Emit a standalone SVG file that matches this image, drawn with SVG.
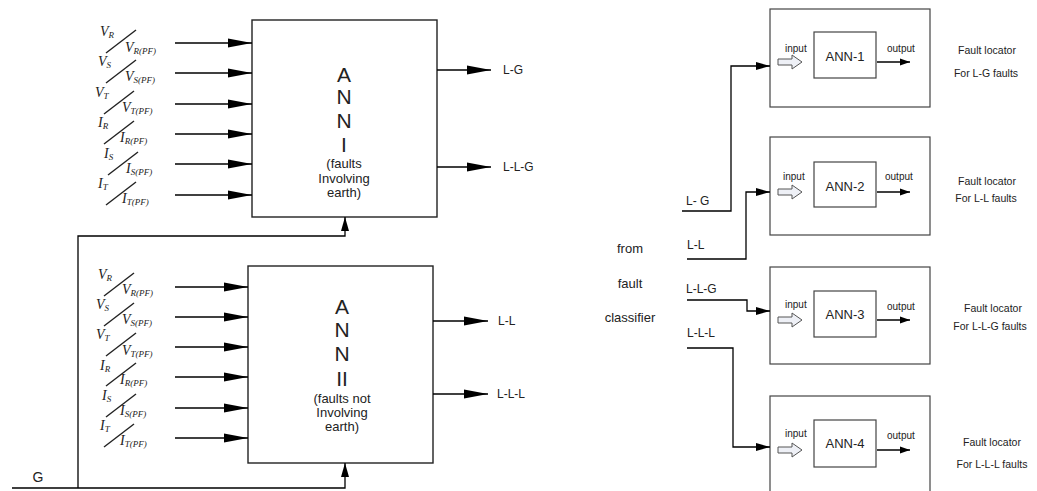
<svg xmlns="http://www.w3.org/2000/svg" width="1037" height="491" viewBox="0 0 1037 491">
<defs>
<style>
.ln{stroke:#000;stroke-width:1.3;fill:none}
.box{stroke:#222;stroke-width:1.4;fill:#fff}
.sbox{stroke:#444;stroke-width:1.2;fill:#fff}
.s{font-family:"Liberation Sans",Arial,sans-serif;fill:#222}
.big{font-size:21px;text-anchor:middle}
.mid{font-size:13px;text-anchor:middle}
.lbl{font-size:12px}
.sm{font-size:10px}
.fl{font-size:10.5px;text-anchor:middle}
.m{font-family:"Liberation Serif","Times New Roman",serif;font-style:italic;fill:#222;font-size:14px}
.sub{font-size:9px}
.sl{stroke:#222;stroke-width:1.4}
.hol{fill:#eef0f6;stroke:#555;stroke-width:1}
</style>
<marker id="aL" markerUnits="userSpaceOnUse" markerWidth="26" markerHeight="10" refX="24" refY="5" orient="auto"><path d="M0,0.5 L24,5 L0,9.5 z" fill="#000"/></marker>
<marker id="aM" markerUnits="userSpaceOnUse" markerWidth="16" markerHeight="10" refX="14" refY="5" orient="auto"><path d="M0,1 L14,5 L0,9 z" fill="#000"/></marker>
<marker id="aS" markerUnits="userSpaceOnUse" markerWidth="11" markerHeight="8" refX="10" refY="4" orient="auto"><path d="M0,0.5 L10,4 L0,7.5 z" fill="#000"/></marker>
<g id="frac">
<line class="sl" x1="6" y1="11" x2="36" y2="-12"/>
</g>
</defs>

<!-- ANN I -->
<g id="ann1">
<rect class="box" x="252" y="20" width="185" height="197"/>
<text class="s big" x="344" y="82">A</text>
<text class="s big" x="344" y="104">N</text>
<text class="s big" x="344" y="128">N</text>
<text class="s big" x="344" y="152">I</text>
<text class="s mid" x="344" y="168">(faults</text>
<text class="s mid" x="344" y="183">Involving</text>
<text class="s mid" x="344" y="197">earth)</text>
</g>

<!-- ANN II -->
<g id="ann2">
<rect class="box" x="248" y="266" width="185" height="197"/>
<text class="s big" x="342" y="314">A</text>
<text class="s big" x="342" y="337">N</text>
<text class="s big" x="342" y="361">N</text>
<text class="s big" x="342" y="386">II</text>
<text class="s mid" x="342" y="403">(faults not</text>
<text class="s mid" x="342" y="417">Involving</text>
<text class="s mid" x="342" y="431">earth)</text>
</g>

<!-- input fraction labels ANN I -->
<g id="inputs1">
<use href="#frac" x="100" y="42"/>
<text class="m" x="100" y="36">V<tspan class="sub" dy="2">R</tspan></text>
<text class="m" x="125" y="52">V<tspan class="sub" dy="2">R(PF)</tspan></text>
<use href="#frac" x="100" y="72"/>
<text class="m" x="98" y="66">V<tspan class="sub" dy="2">S</tspan></text>
<text class="m" x="125" y="81">V<tspan class="sub" dy="2">S(PF)</tspan></text>
<use href="#frac" x="98" y="103"/>
<text class="m" x="95" y="97">V<tspan class="sub" dy="2">T</tspan></text>
<text class="m" x="122" y="112">V<tspan class="sub" dy="2">T(PF)</tspan></text>
<use href="#frac" x="98" y="133"/>
<text class="m" x="98" y="127">I<tspan class="sub" dy="2">R</tspan></text>
<text class="m" x="120" y="142">I<tspan class="sub" dy="2">R(PF)</tspan></text>
<use href="#frac" x="102" y="164"/>
<text class="m" x="104" y="158">I<tspan class="sub" dy="2">S</tspan></text>
<text class="m" x="126" y="173">I<tspan class="sub" dy="2">S(PF)</tspan></text>
<use href="#frac" x="100" y="194"/>
<text class="m" x="98" y="188">I<tspan class="sub" dy="2">T</tspan></text>
<text class="m" x="122" y="203">I<tspan class="sub" dy="2">T(PF)</tspan></text>
</g>

<!-- input fraction labels ANN II -->
<g id="inputs2">
<use href="#frac" x="98" y="285"/>
<text class="m" x="98" y="279">V<tspan class="sub" dy="2">R</tspan></text>
<text class="m" x="122" y="294">V<tspan class="sub" dy="2">R(PF)</tspan></text>
<use href="#frac" x="98" y="315"/>
<text class="m" x="96" y="309">V<tspan class="sub" dy="2">S</tspan></text>
<text class="m" x="122" y="324">V<tspan class="sub" dy="2">S(PF)</tspan></text>
<use href="#frac" x="100" y="345"/>
<text class="m" x="96" y="339">V<tspan class="sub" dy="2">T</tspan></text>
<text class="m" x="122" y="355">V<tspan class="sub" dy="2">T(PF)</tspan></text>
<use href="#frac" x="100" y="375"/>
<text class="m" x="100" y="370">I<tspan class="sub" dy="2">R</tspan></text>
<text class="m" x="120" y="384">I<tspan class="sub" dy="2">R(PF)</tspan></text>
<use href="#frac" x="100" y="406"/>
<text class="m" x="102" y="400">I<tspan class="sub" dy="2">S</tspan></text>
<text class="m" x="120" y="415">I<tspan class="sub" dy="2">S(PF)</tspan></text>
<use href="#frac" x="98" y="436"/>
<text class="m" x="100" y="430">I<tspan class="sub" dy="2">T</tspan></text>
<text class="m" x="120" y="445">I<tspan class="sub" dy="2">T(PF)</tspan></text>
</g>

<!-- output labels left -->
<g id="outlabels">
<text class="s lbl" x="503" y="74">L-G</text>
<text class="s lbl" x="503" y="171">L-L-G</text>
<text class="s lbl" x="498" y="325">L-L</text>
<text class="s lbl" x="497" y="398">L-L-L</text>
<text class="s" x="38" y="482" font-size="14" text-anchor="middle">G</text>
</g>

<!-- classifier labels -->
<g id="classifier">
<text class="s mid" x="630" y="253">from</text>
<text class="s mid" x="630" y="288">fault</text>
<text class="s mid" x="630" y="322">classifier</text>
<text class="s lbl" x="686" y="205">L- G</text>
<text class="s lbl" x="687" y="249">L-L</text>
<text class="s lbl" x="686" y="293">L-L-G</text>
<text class="s lbl" x="687" y="337">L-L-L</text>
</g>

<!-- locator boxes -->
<g id="loc1">
<rect class="sbox" x="770" y="9" width="160" height="98"/>
<rect class="sbox" x="814" y="32" width="62" height="46"/>
<text class="s mid" x="845" y="61">ANN-1</text>
<text class="s sm" x="785" y="52">input</text>
<path class="hol" d="M778,59 L792,59 L792,55 L802,62 L792,69 L792,65 L778,65 Z"/>
<text class="s sm" x="887" y="52">output</text>
<line class="ln" x1="877" y1="62" x2="910" y2="62" marker-end="url(#aS)" stroke-width="1"/>
<text class="s fl" x="987" y="54">Fault locator</text>
<text class="s fl" x="986" y="77">For L-G faults</text>
</g>
<g id="loc2">
<rect class="sbox" x="770" y="137" width="160" height="98"/>
<rect class="sbox" x="814" y="162" width="62" height="45"/>
<text class="s mid" x="845" y="191">ANN-2</text>
<text class="s sm" x="783" y="180">input</text>
<path class="hol" d="M778,189 L792,189 L792,185 L802,192 L792,199 L792,195 L778,195 Z"/>
<text class="s sm" x="885" y="180">output</text>
<line class="ln" x1="877" y1="192" x2="910" y2="192" marker-end="url(#aS)" stroke-width="1"/>
<text class="s fl" x="987" y="185">Fault locator</text>
<text class="s fl" x="986" y="202">For L-L faults</text>
</g>
<g id="loc3">
<rect class="sbox" x="770" y="267" width="160" height="97"/>
<rect class="sbox" x="814" y="291" width="62" height="46"/>
<text class="s mid" x="845" y="319">ANN-3</text>
<text class="s sm" x="785" y="308">input</text>
<path class="hol" d="M778,317 L792,317 L792,313 L802,320 L792,327 L792,323 L778,323 Z"/>
<text class="s sm" x="887" y="310">output</text>
<line class="ln" x1="877" y1="320" x2="910" y2="320" marker-end="url(#aS)" stroke-width="1"/>
<text class="s fl" x="993" y="312">Fault locator</text>
<text class="s fl" x="990" y="330">For L-L-G faults</text>
</g>
<g id="loc4">
<rect class="sbox" x="770" y="396" width="160" height="110"/>
<rect class="sbox" x="814" y="420" width="62" height="47"/>
<text class="s mid" x="845" y="448">ANN-4</text>
<text class="s sm" x="785" y="437">input</text>
<path class="hol" d="M778,447 L792,447 L792,443 L802,450 L792,457 L792,453 L778,453 Z"/>
<text class="s sm" x="887" y="439">output</text>
<line class="ln" x1="877" y1="450" x2="910" y2="450" marker-end="url(#aS)" stroke-width="1"/>
<text class="s fl" x="992" y="446">Fault locator</text>
<text class="s fl" x="992" y="468">For L-L-L faults</text>
</g>

<!-- connectors -->
<g id="connectors">
<line class="ln" x1="175" y1="43" x2="252" y2="43" marker-end="url(#aL)"/>
<line class="ln" x1="175" y1="73" x2="252" y2="73" marker-end="url(#aL)"/>
<line class="ln" x1="175" y1="104" x2="252" y2="104" marker-end="url(#aL)"/>
<line class="ln" x1="175" y1="134" x2="252" y2="134" marker-end="url(#aL)"/>
<line class="ln" x1="175" y1="164" x2="252" y2="164" marker-end="url(#aL)"/>
<line class="ln" x1="175" y1="195" x2="252" y2="195" marker-end="url(#aL)"/>

<line class="ln" x1="175" y1="287" x2="248" y2="287" marker-end="url(#aL)"/>
<line class="ln" x1="175" y1="317" x2="248" y2="317" marker-end="url(#aL)"/>
<line class="ln" x1="175" y1="347" x2="248" y2="347" marker-end="url(#aL)"/>
<line class="ln" x1="175" y1="377" x2="248" y2="377" marker-end="url(#aL)"/>
<line class="ln" x1="175" y1="408" x2="248" y2="408" marker-end="url(#aL)"/>
<line class="ln" x1="175" y1="438" x2="248" y2="438" marker-end="url(#aL)"/>

<line class="ln" x1="437" y1="70" x2="491" y2="70" marker-end="url(#aL)"/>
<line class="ln" x1="437" y1="167" x2="491" y2="167" marker-end="url(#aL)"/>
<line class="ln" x1="433" y1="321" x2="488" y2="321" marker-end="url(#aL)"/>
<line class="ln" x1="433" y1="394" x2="488" y2="394" marker-end="url(#aL)"/>

<path class="ln" d="M12,488 L345,488 L345,463" marker-end="url(#aM)"/>
<path class="ln" d="M78,488 L78,236 L345,236 L345,217" marker-end="url(#aM)"/>

<path class="ln" d="M682,211 L731,211 L731,66 L770,66" marker-end="url(#aM)"/>
<path class="ln" d="M687,259 L746,259 L746,192 L770,192" marker-end="url(#aM)"/>
<path class="ln" d="M687,300 L747,300 L747,311 L770,311" marker-end="url(#aM)"/>
<path class="ln" d="M687,348 L733,348 L733,447 L770,447" marker-end="url(#aM)"/>
</g>
</svg>
